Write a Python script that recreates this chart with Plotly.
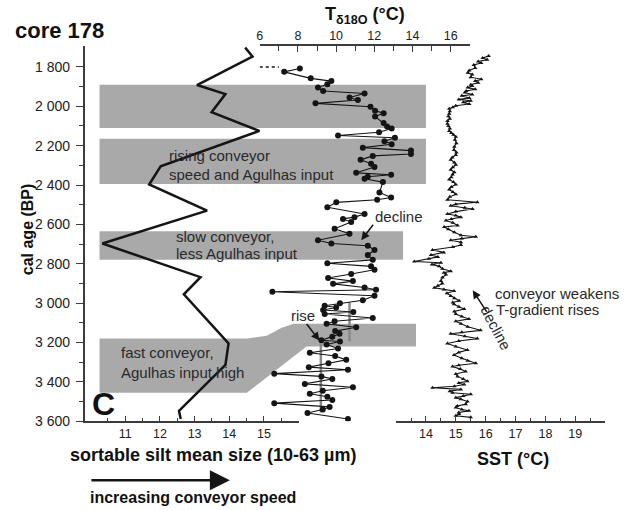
import plotly.graph_objects as go

# ---------------- data ----------------
# sortable silt mean size (µm) vs calendar age
silt_age = [1702, 1747, 1892, 1938, 2030, 2125, 2305, 2397, 2530, 2697, 2868, 2955, 3205, 3313, 3547, 3588]
silt_size = [14.46, 14.67, 13.07, 13.89, 13.49, 14.87, 12.02, 11.69, 13.36, 10.34, 13.17, 12.69, 13.98, 13.89, 12.55, 12.60]

# T delta18O (°C)
t_age = [1808, 1825, 1858, 1872, 1888, 1905, 1922, 1935, 1955, 1968, 1985, 2002, 2022, 2035, 2052,
         2085, 2102, 2113, 2132, 2148, 2160, 2177, 2193, 2210, 2225, 2242, 2252, 2272, 2292, 2308,
         2338, 2348, 2358, 2368, 2385, 2438, 2463, 2475, 2488, 2513, 2547, 2563, 2572, 2588, 2622,
         2647, 2680, 2697, 2708, 2730, 2755, 2780, 2797, 2813, 2830, 2852, 2872, 2888, 2902, 2920,
         2932, 2942, 2962, 2985, 3000, 3013, 3022, 3035, 3045, 3055, 3075, 3092, 3105, 3122, 3142,
         3155, 3170, 3188, 3195, 3210, 3230, 3252, 3268, 3288, 3305, 3325, 3338, 3358, 3372, 3385,
         3410, 3427, 3445, 3460, 3475, 3492, 3508, 3527, 3540, 3558, 3588]
t_val = [8.10, 7.28, 8.67, 9.75, 9.54, 9.05, 9.32, 11.49, 10.70, 11.14, 8.92, 11.80, 12.04, 12.49, 12.04,
         12.49, 12.67, 12.91, 12.25, 10.10, 13.08, 12.53, 12.91, 11.40, 13.92, 13.92, 11.92, 11.28, 11.83, 12.01,
         11.05, 12.88, 11.66, 11.49, 12.45, 12.27, 12.88, 12.15, 10.01, 9.54, 11.49, 10.96, 10.36, 10.79, 9.92,
         10.70, 9.05, 9.75, 11.66, 12.01, 11.66, 11.92, 9.54, 11.83, 12.01, 10.79, 9.58, 10.88, 9.84, 11.49,
         12.09, 6.66, 12.01, 11.40, 10.20, 9.40, 10.00, 9.32, 10.90, 9.40, 11.92, 9.92, 9.50, 11.05, 9.95,
         10.18, 9.80, 9.23, 10.20, 9.50, 10.10, 8.62, 9.95, 10.53, 9.60, 8.57, 10.62, 6.76, 9.23, 9.80,
         8.36, 10.88, 9.30, 8.62, 9.54, 9.80, 6.76, 9.66, 9.30, 8.50, 10.62]

# dotted continuation at the top of the T record
t_dot_age = [1800, 1800]
t_dot_val = [6.0, 7.0]

# mean T levels (grey vertical lines)
t_mean_ages = [[2995, 3195], [3205, 3555]]
t_mean_vals = [10.7, 9.2]

# SST (°C)
sst_age = [1745, 1755, 1763, 1772, 1780, 1790, 1805, 1818, 1830, 1838, 1852, 1863, 1872, 1880, 1890,
           1897, 1905, 1913, 1922, 1930, 1940, 1947, 1958, 1965, 1972, 1980, 1988, 1997, 2005, 2013,
           2025, 2038, 2050, 2063, 2075, 2088, 2100, 2113, 2125, 2135, 2145, 2155, 2170, 2188, 2205,
           2222, 2235, 2247, 2260, 2272, 2285, 2297, 2310, 2322, 2335, 2347, 2360, 2372, 2385, 2397,
           2410, 2422, 2435, 2447, 2460, 2475, 2487, 2497, 2505, 2515, 2522, 2535, 2547, 2555, 2563,
           2572, 2580, 2592, 2605, 2613, 2625, 2640, 2655, 2663, 2672, 2680, 2690, 2705, 2715, 2730,
           2742, 2755, 2765, 2775, 2788, 2795, 2803, 2813, 2825, 2838, 2845, 2855, 2870, 2888, 2900,
           2912, 2922, 2930, 2938, 2950, 2963, 2975, 2988, 2997, 3005, 3018, 3030, 3042, 3055, 3068,
           3080, 3092, 3105, 3120, 3138, 3148, 3155, 3168, 3180, 3192, 3205, 3220, 3238, 3250, 3263,
           3280, 3292, 3305, 3315, 3322, 3335, 3347, 3360, 3372, 3385, 3397, 3405, 3413, 3422, 3430,
           3438, 3447, 3455, 3463, 3472, 3480, 3488, 3500, 3513, 3522, 3530, 3540, 3547, 3555, 3563,
           3572, 3580]
sst_val = [16.10, 15.90, 16.05, 15.75, 15.85, 15.60, 15.65, 15.45, 15.40, 15.55, 15.50, 15.85, 15.65, 15.75, 15.50,
           15.55, 15.40, 15.65, 15.35, 15.30, 15.55, 15.20, 15.45, 15.10, 15.50, 15.25, 15.45, 15.00, 14.90, 14.78,
           14.80, 14.78, 14.75, 14.80, 14.72, 14.72, 14.75, 14.80, 14.78, 14.85, 14.92, 15.00, 14.97, 15.02, 14.95,
           14.94, 15.02, 15.00, 14.88, 14.83, 14.95, 15.00, 14.90, 14.83, 14.95, 14.89, 14.85, 14.78, 14.92, 15.00,
           14.85, 14.78, 14.90, 15.00, 14.80, 14.72, 15.72, 15.00, 14.83, 15.30, 15.56, 15.00, 14.72, 15.00, 15.17,
           14.85, 14.67, 14.90, 15.06, 14.61, 14.75, 14.95, 15.17, 15.67, 15.20, 14.83, 15.17, 15.17, 14.90, 14.22,
           14.60, 14.17, 14.40, 14.10, 13.61, 14.50, 14.20, 14.44, 14.55, 14.83, 14.60, 14.67, 14.55, 14.50, 14.55,
           14.40, 14.28, 14.60, 14.94, 14.70, 14.83, 14.95, 15.11, 14.90, 14.94, 15.10, 15.28, 14.95, 15.00, 15.20,
           15.44, 15.00, 15.17, 15.40, 15.83, 15.20, 14.83, 15.30, 15.72, 15.10, 14.72, 15.00, 15.39, 15.10, 14.94,
           15.20, 15.40, 15.67, 15.10, 14.89, 15.15, 15.33, 15.00, 15.06, 15.25, 15.39, 15.10, 15.28, 14.95, 14.22,
           15.17, 14.80, 14.89, 15.50, 15.25, 15.00, 15.17, 15.39, 15.33, 15.05, 15.00, 15.20, 15.44, 15.10, 15.11,
           15.00, 15.50]

# grey interpretation bands (ages)
band_ages = [[1890, 2110], [2165, 2395], [2635, 2780]]

# axis ticks
age_ticks = [1800, 2000, 2200, 2400, 2600, 2800, 3000, 3200, 3400, 3600]
age_ticktext = ["1 800", "2 000", "2 200", "2 400", "2 600", "2 800", "3 000", "3 200", "3 400", "3 600"]
age_minor = [1900, 2100, 2300, 2500, 2700, 2900, 3100, 3300, 3500]
silt_ticks = [11, 12, 13, 14, 15]
silt_minor = [10.5, 11.5, 12.5, 13.5, 14.5, 15.5]
t_ticks = [6, 8, 10, 12, 14, 16]
t_minor = [7, 9, 11, 13, 15]
sst_ticks = [14, 15, 16, 17, 18, 19]
sst_minor = [13.5, 14.5, 15.5, 16.5, 17.5, 18.5, 19.5]

# ---------------- figure ----------------
W, H = 625, 510
def px(x):
    return x / W
def py(y):
    return 1 - y / H

FONT = "Arial, 'Liberation Sans', sans-serif"
INK = "#151515"
AX = "#3c3c3c"
GRAY = "#a9a9a9"
TXT = "#2a2a2a"

fig = go.Figure()

# bands
band_right = [425, 425, 402]
for (a0, a1), xr in zip(band_ages, band_right):
    fig.add_shape(type="rect", xref="paper", yref="y", x0=px(97), x1=px(xr), y0=a0, y1=a1,
                  fillcolor=GRAY, line_width=0, layer="below")

# lower composite band (fast conveyor) with rising limb
path = ("M {a},3180 L {b},3180 L {c},3165 L {d},3125 L {e},3105 L {f},3105 L {f},3220 "
        "L {g},3220 L {b},3455 L {a},3455 Z").format(
    a=px(97), b=px(245), c=px(265), d=px(280), e=px(292), f=px(415), g=px(305))
fig.add_shape(type="path", xref="paper", yref="y", path=path, fillcolor=GRAY, line_width=0, layer="below")

# silt
fig.add_trace(go.Scatter(x=silt_size, y=silt_age, mode="lines", line=dict(color=INK, width=2.5),
                         xaxis="x", yaxis="y"))
# T mean lines
for ages, v in zip(t_mean_ages, t_mean_vals):
    fig.add_trace(go.Scatter(x=[v, v], y=ages, mode="lines", line=dict(color="#8a8a8a", width=2.5),
                             xaxis="x2", yaxis="y"))
# T dotted
fig.add_trace(go.Scatter(x=t_dot_val, y=t_dot_age, mode="lines", line=dict(color=INK, width=1.5, dash="dot"),
                         xaxis="x2", yaxis="y"))
# T series
fig.add_trace(go.Scatter(x=t_val, y=t_age, mode="lines+markers", line=dict(color=INK, width=1.1),
                         marker=dict(symbol="circle", size=6, color=INK), xaxis="x2", yaxis="y"))
# SST series
fig.add_trace(go.Scatter(x=sst_val, y=sst_age, mode="lines+markers", line=dict(color=INK, width=1.1),
                         marker=dict(symbol="triangle-up", size=4, color=INK), xaxis="x3", yaxis="y"))

ydom = [py(428), py(47)]
common = dict(showgrid=False, zeroline=False, showline=True, linecolor=AX, linewidth=1.5,
              tickcolor=AX, tickwidth=1.3, fixedrange=True)

fig.update_layout(
    width=W, height=H, margin=dict(l=0, r=0, t=0, b=0),
    paper_bgcolor="white", plot_bgcolor="rgba(0,0,0,0)",
    showlegend=False, hovermode=False,
    font=dict(family=FONT, color=TXT),
    yaxis=dict(domain=ydom, range=[3600, 1695], anchor="x", tickmode="array",
               tickvals=age_ticks, ticktext=age_ticktext, ticks="outside", ticklen=7,
               tickfont=dict(size=14, color="#222"), ticklabelstandoff=3,
               minor=dict(tickvals=age_minor, ticks="outside", ticklen=4, tickcolor=AX, tickwidth=1.2),
               **common),
    xaxis=dict(domain=[px(82), px(297)], range=[9.827, 16.0], anchor="y", side="bottom",
               tickmode="array", tickvals=silt_ticks, ticks="inside", ticklen=6,
               tickfont=dict(size=12.5, color="#222"),
               minor=dict(tickvals=silt_minor, ticks="inside", ticklen=4, tickcolor=AX, tickwidth=1.2),
               **common),
    xaxis2=dict(domain=[px(258), px(469)], range=[6, 17], anchor="y", side="top",
                tickmode="array", tickvals=t_ticks, ticks="inside", ticklen=6,
                tickfont=dict(size=12.5, color="#222"),
                minor=dict(tickvals=t_minor, ticks="inside", ticklen=5, tickcolor=AX, tickwidth=1.2),
                **common),
    xaxis3=dict(domain=[px(395), px(605)], range=[13, 20], anchor="y", side="bottom",
                tickmode="array", tickvals=sst_ticks, ticks="inside", ticklen=6,
                tickfont=dict(size=12.5, color="#222"),
                minor=dict(tickvals=sst_minor, ticks="inside", ticklen=4, tickcolor=AX, tickwidth=1.2),
                **common),
)

def text(x, y, s, size=15, bold=False, anchor="left", angle=0, color=TXT):
    fig.add_annotation(x=px(x), y=py(y), xref="paper", yref="paper", text=(f"<b>{s}</b>" if bold else s),
                       showarrow=False, xanchor=anchor, yanchor="middle", textangle=angle,
                       font=dict(family=FONT, size=size, color=color))

def arrow(x0, y0, x1, y1, width=1.5, size=1.1, head=2):
    fig.add_annotation(x=px(x1), y=py(y1), xref="paper", yref="paper", text="", showarrow=True,
                       ax=x0 - x1, ay=y0 - y1, axref="pixel", ayref="pixel",
                       arrowhead=head, arrowsize=size, arrowwidth=width, arrowcolor=INK, standoff=0)

text(10, 31, "core 178", size=22, bold=True, color="#111")
fig.add_annotation(x=px(322), y=py(16), xref="paper", yref="paper", showarrow=False, xanchor="left",
                   yanchor="middle", text="<b>T<sub>δ18O</sub> (°C)</b>",
                   font=dict(family=FONT, size=18, color="#111"))
text(24, 233, "cal age (BP)", size=16, bold=True, anchor="center", angle=-90, color="#111")

text(165, 158, "rising conveyor")
text(165, 177, "speed and Agulhas input")
text(172, 240, "slow conveyor,")
text(172, 258, "less Agulhas input")
text(117, 358, "fast conveyor,")
text(117, 378, "Agulhas input high")
text(101, 410, "C", size=32, bold=True, anchor="center", color="#111")

text(372, 220, "decline")
arrow(373, 227, 360, 244)
text(287, 321, "rise")
arrow(304, 328, 318, 346)

text(492, 298, "conveyor weakens")
text(493, 314, "T-gradient rises")
text(495, 333, "decline", angle=62, anchor="center")
arrow(487, 318, 472, 295)

text(211, 462, "sortable silt mean size (10-63 µm)", size=18, bold=True, anchor="center", color="#111")
text(512, 466, "SST (°C)", size=18, bold=True, anchor="center", color="#111")
arrow(88, 488, 228, 488, width=2.5, size=1.6, head=2)
text(191, 505, "increasing conveyor speed", size=16, bold=True, anchor="center", color="#111")

fig.write_html("out.html")
